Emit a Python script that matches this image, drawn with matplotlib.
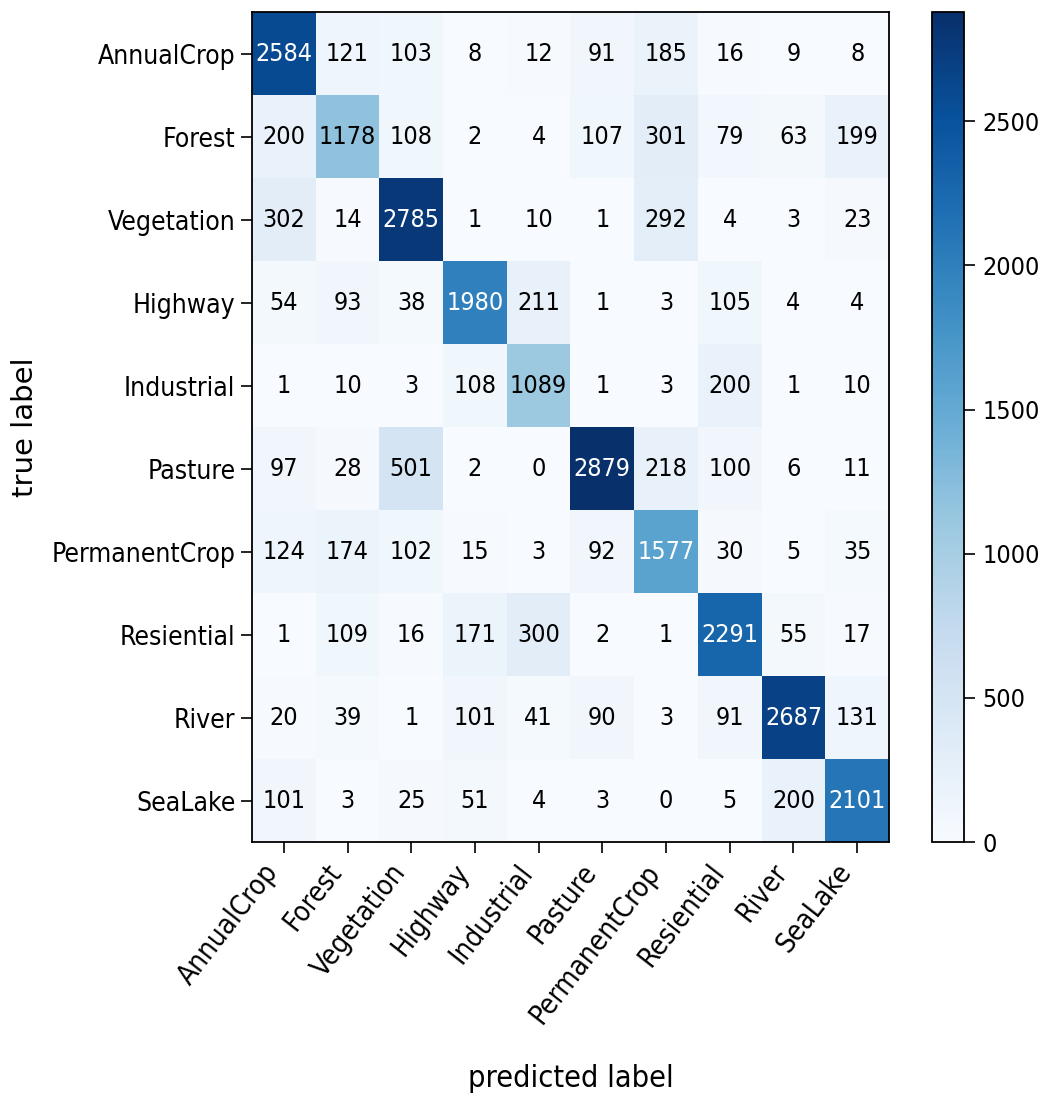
import numpy as np
import matplotlib
matplotlib.use("Agg")
import matplotlib.pyplot as plt
from matplotlib import font_manager

# Class names (rows = true label, columns = predicted label)
class_names = ["AnnualCrop", "Forest", "Vegetation", "Highway", "Industrial",
               "Pasture", "PermanentCrop", "Resiential", "River", "SeaLake"]

# Confusion matrix counts, one list per true class
row_annualcrop = [2584, 121, 103, 8, 12, 91, 185, 16, 9, 8]
row_forest = [200, 1178, 108, 2, 4, 107, 301, 79, 63, 199]
row_vegetation = [302, 14, 2785, 1, 10, 1, 292, 4, 3, 23]
row_highway = [54, 93, 38, 1980, 211, 1, 3, 105, 4, 4]
row_industrial = [1, 10, 3, 108, 1089, 1, 3, 200, 1, 10]
row_pasture = [97, 28, 501, 2, 0, 2879, 218, 100, 6, 11]
row_permanentcrop = [124, 174, 102, 15, 3, 92, 1577, 30, 5, 35]
row_residential = [1, 109, 16, 171, 300, 2, 1, 2291, 55, 17]
row_river = [20, 39, 1, 101, 41, 90, 3, 91, 2687, 131]
row_sealake = [101, 3, 25, 51, 4, 3, 0, 5, 200, 2101]

cbar_ticks = [0, 500, 1000, 1500, 2000, 2500]

cm = np.array([row_annualcrop, row_forest, row_vegetation, row_highway,
               row_industrial, row_pasture, row_permanentcrop,
               row_residential, row_river, row_sealake])

# Prefer a condensed sans face when one is installed
stretch = "normal"
for f in font_manager.fontManager.ttflist:
    if f.name == "DejaVu Sans" and f.stretch == "condensed":
        stretch = "condensed"
        break
plt.rcParams["font.family"] = ["DejaVu Sans"]
plt.rcParams["font.stretch"] = stretch

fig = plt.figure(figsize=(10.47, 11.04), dpi=100)
ax = fig.add_axes([0.2407, 0.2373, 0.6084, 0.7518])
cax = fig.add_axes([0.8902, 0.2373, 0.0306, 0.7518])

im = ax.imshow(cm, cmap="Blues", interpolation="nearest", aspect="auto",
               vmin=0, vmax=cm.max())

thresh = cm.max() / 2.0
for i in range(cm.shape[0]):
    for j in range(cm.shape[1]):
        ax.text(j, i, str(cm[i, j]), ha="center", va="center",
                fontsize=18, fontstretch=stretch,
                color="white" if cm[i, j] > thresh else "black")

n = len(class_names)
ax.set_xticks(np.arange(n))
ax.set_yticks(np.arange(n))
ax.set_xticklabels(class_names, rotation=52, ha="right", fontsize=20)
ax.set_yticklabels(class_names, fontsize=19)
ax.tick_params(length=8, width=1.2, pad=4)
for s in ax.spines.values():
    s.set_linewidth(1.3)

ax.set_xlabel("predicted label", fontsize=22)
ax.set_ylabel("true label", fontsize=21, fontstretch="normal")
ax.xaxis.set_label_coords(0.5, -0.268)
ax.yaxis.set_label_coords(-0.335, 0.5)

cb = fig.colorbar(im, cax=cax, ticks=cbar_ticks)
cb.ax.tick_params(labelsize=18, length=8, width=1.2, pad=5)
cb.outline.set_linewidth(1.3)

fig.savefig("out.png", dpi=100)
